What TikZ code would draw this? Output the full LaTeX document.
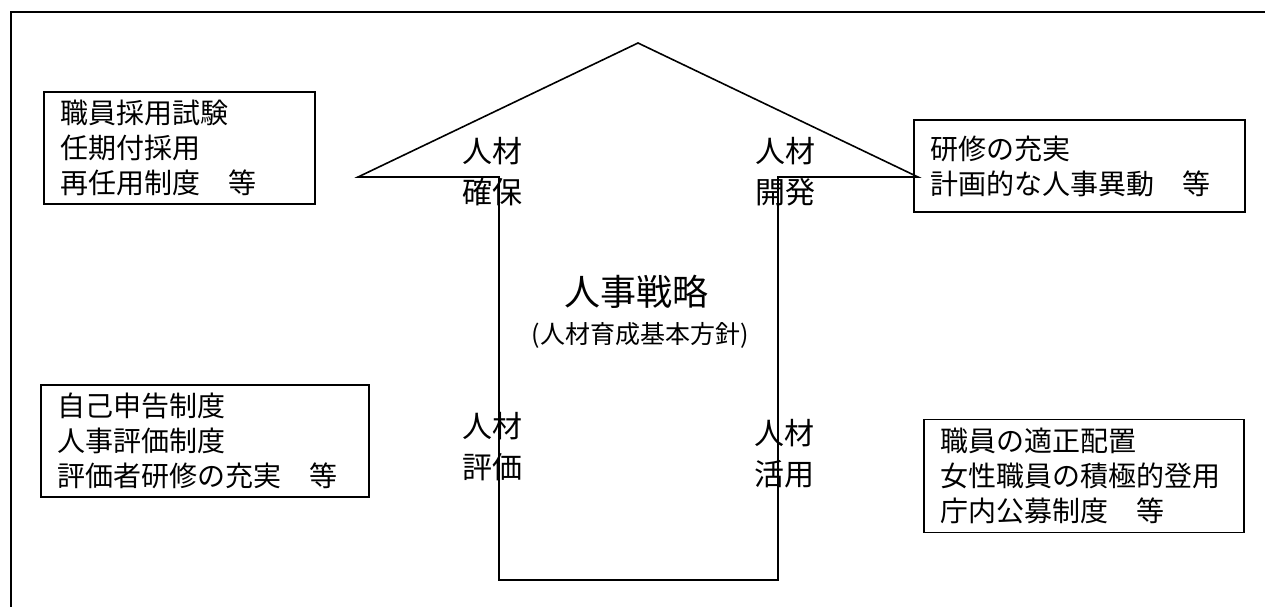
\documentclass[tikz,border=0pt]{standalone}
\usepackage{fontspec}
\newfontfamily\jp{Noto Sans CJK JP}
\begin{document}
\begin{tikzpicture}[x=1pt,y=-1pt,
  line/.style={line width=1.6pt, draw=black},
  infobox/.style={draw=black, line width=1.6pt, inner xsep=16pt, inner ysep=0pt,
    align=left, font=\jp\fontsize{28}{35}\selectfont},
  lbl/.style={inner sep=0pt, align=center, font=\jp\fontsize{30}{41}\selectfont}]
\useasboundingbox (0,0) rectangle (1265,606);
\clip (0,0) rectangle (1265,606);
% outer frame
\draw[line width=2.4pt] (11,12) rectangle (1290,640);
% arrow
\draw[line] (499,580) -- (499,177) -- (358,177) -- (638,43) -- (918,177) -- (778,177) -- (778,580) -- cycle;
% boxes
\node[infobox, text width=239pt, minimum width=271pt, minimum height=112pt] (b1) at (179.5,148)
  {職員採用試験\\任期付採用\\再任用制度　等};
\node[infobox, text width=299pt, minimum width=331pt, minimum height=92pt] (b2) at (1079.5,166)
  {研修の充実\\計画的な人事異動　等};
\node[infobox, text width=296pt, minimum width=328pt, minimum height=112pt] (b3) at (205,441)
  {自己申告制度\\人事評価制度\\評価者研修の充実　等};
\node[infobox, text width=288pt, minimum width=320pt, minimum height=113pt] (b4) at (1084,476)
  {職員の適正配置\\女性職員の積極的登用\\庁内公募制度　等};
% labels
\node[lbl] (l1) at (492,171.5) {人材\\確保};
\node[lbl] (l2) at (785,171.5) {人材\\開発};
\node[lbl] (l3) at (492,447) {人材\\評価};
\node[lbl] (l4) at (784,454) {人材\\活用};
% center
\node[inner sep=0pt, font=\jp\fontsize{36}{40}\selectfont] (c1) at (636,292) {人事戦略};
\node[inner sep=0pt, font=\jp\fontsize{25}{30}\selectfont] (c2) at (640,335) {(人材育成基本方針)};
\end{tikzpicture}
\end{document}
